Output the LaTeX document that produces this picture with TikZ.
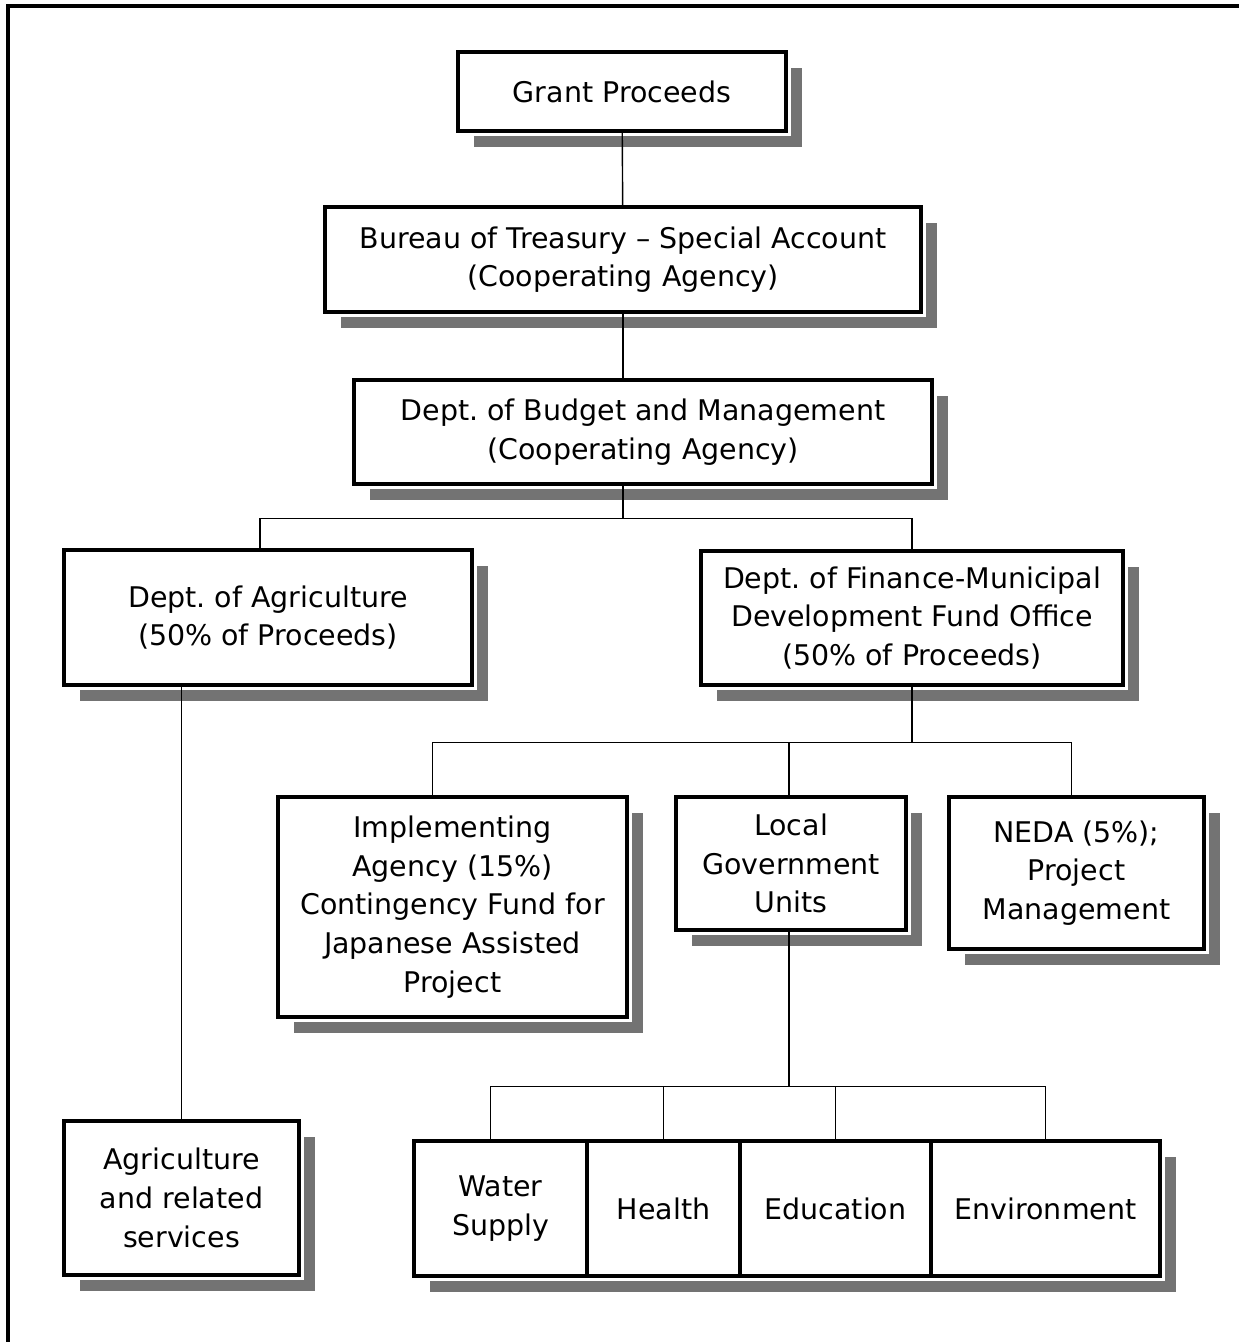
\documentclass[tikz,border=0pt]{standalone}
\usepackage{fontspec}
\setmainfont{DejaVu Sans}
\usetikzlibrary{shadows}
\newcommand\pxu{0.02cm}
\tikzset{
  box/.style={draw, line width=2pt, fill=white, align=center, inner sep=0pt,
    drop shadow={shadow xshift=0.32cm, shadow yshift=-0.32cm, draw=none, fill=black!55, opacity=1},
    drop shadow={shadow xshift=0.1cm, shadow yshift=-0.1cm, draw=none, fill=white, opacity=1}},
  link/.style={line width=0.8pt}
}

\begin{document}
\begin{tikzpicture}[x=\pxu, y=-\pxu, font=\fontsize{16.2}{22}\selectfont\frenchspacing]
  \useasboundingbox (0,0) rectangle (1239,1342);
  % frame, only top and left edges show
  \draw[line width=1.8pt] (8,1342) -- (8,6) -- (1239,6);

  % top of the chain
  \node[box, minimum width=328*\pxu, minimum height=79*\pxu] (grant) at (622,91.5) {Grant Proceeds};
  \node[box, minimum width=596*\pxu, minimum height=105*\pxu] (bureau) at (623,259.5)
    {Bureau of Treasury -- Special Account\\(Cooperating Agency)};
  \node[box, minimum width=578*\pxu, minimum height=104*\pxu] (budget) at (643,432)
    {Dept. of Budget and Management\\(Cooperating Agency)};

  % the two halves
  \node[box, minimum width=408*\pxu, minimum height=135*\pxu] (agri) at (268,617.5)
    {Dept. of Agriculture\\(50\% of Proceeds)};
  \node[box, minimum width=422*\pxu, minimum height=134*\pxu] (finance) at (912,618)
    {Dept. of Finance-Municipal\\Development Fund Office\\(50\% of Proceeds)};

  % under finance
  \node[box, minimum width=349*\pxu, minimum height=220*\pxu] (impl) at (452.5,907)
    {Implementing\\Agency (15\%)\\Contingency Fund for\\Japanese Assisted\\Project};
  \node[box, minimum width=230*\pxu, minimum height=133*\pxu] (lgu) at (791,863.5)
    {Local\\Government\\Units};
  \node[box, minimum width=255*\pxu, minimum height=152*\pxu] (neda) at (1076.5,873)
    {NEDA (5\%);\\Project\\Management};

  % under agriculture
  \node[box, minimum width=235*\pxu, minimum height=154*\pxu] (agserv) at (181.5,1198)
    {Agriculture\\and related\\services};

  % sectors of the local units
  \node[box, minimum width=173*\pxu, minimum height=135*\pxu] (water) at (500.5,1208.5) {Water\\Supply};
  \node[box, minimum width=153*\pxu, minimum height=135*\pxu] (health) at (663.5,1208.5) {Health};
  \node[box, minimum width=191*\pxu, minimum height=135*\pxu] (educ) at (835.5,1208.5) {Education};
  \node[box, minimum width=229*\pxu, minimum height=135*\pxu] (env) at (1045.5,1208.5) {Environment};

  % connectors
  \draw[link] (grant) -- (bureau);
  \draw[link] (bureau) -- (bureau.south |- budget.north);
  \draw[link] (bureau.south |- budget.south) -- ++(0,33) coordinate (split1);
  \draw[link] ([xshift=-8*\pxu]agri.north) |- (split1) -| (finance.north);
  \draw[link] (agserv.north |- agri.south) -- (agserv.north);

  \draw[link] (finance.south) -- ++(0,56) coordinate (split2);
  \draw[link] ([xshift=-20*\pxu]impl.north) |- (split2) -| ([xshift=-5*\pxu]neda.north);
  \draw[link] ([xshift=-2*\pxu]lgu.north) -- ([xshift=-2*\pxu]lgu.north |- split2);

  \draw[link] ([xshift=-2*\pxu]lgu.south) -- ++(0,155) coordinate (split3);
  \draw[link] ([xshift=-10*\pxu]water.north) |- (split3) -| (env.north);
  \draw[link] (health.north) -- (health.north |- split3);
  \draw[link] (educ.north) -- (educ.north |- split3);
\end{tikzpicture}
\end{document}
